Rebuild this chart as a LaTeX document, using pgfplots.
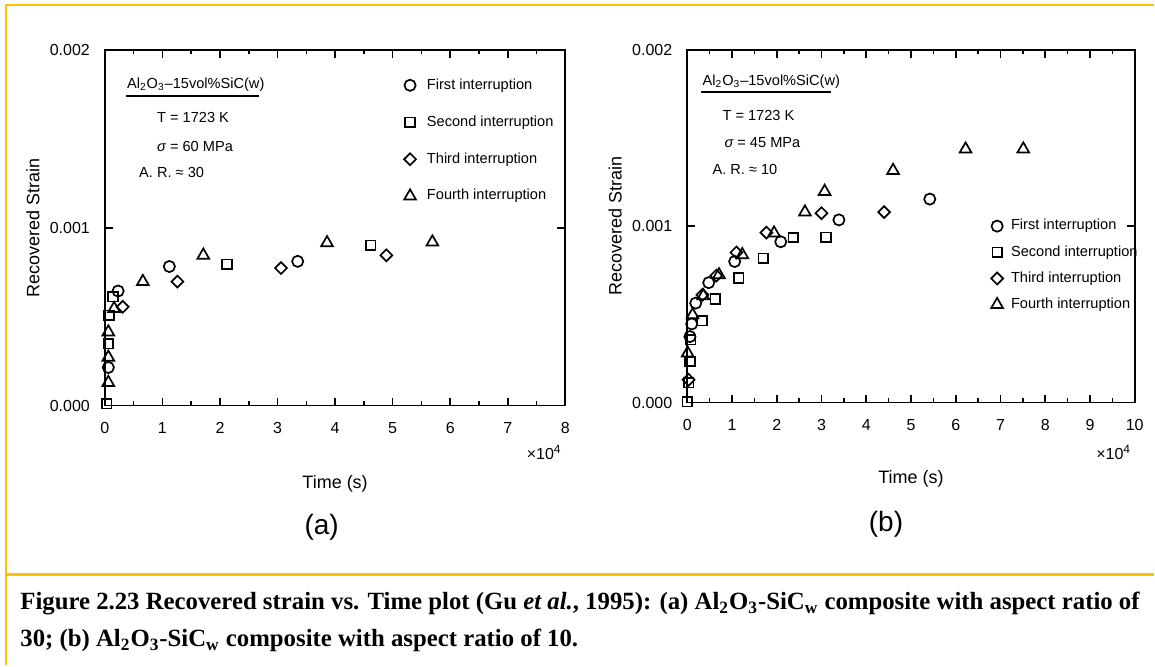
\documentclass[border=0pt]{standalone}
\usepackage{pgfplots}
\pgfplotsset{compat=1.18}
\usepackage{fontspec}
\setmainfont{Liberation Sans}
\newfontfamily\capfont{Liberation Serif}
\definecolor{gold}{RGB}{255,192,0}

\pgfplotsset{
  mk1/.style={only marks, black, mark=o, mark size=2.8pt, mark options={line width=0.85pt}},
  mk2/.style={only marks, black, mark=square, mark size=2.4pt, mark options={line width=0.85pt}},
  mk3/.style={only marks, black, mark=square, mark size=2.1pt, mark options={line width=0.85pt, rotate=45}},
  mk4/.style={only marks, black, mark=triangle, mark size=3.4pt, mark options={line width=0.85pt}},
  strainaxis/.style={
    scale only axis, anchor=south west,
    xmin=0, ymin=0, ymax=0.002,
    ytick={0,0.001,0.002}, yticklabels={0.000,0.001,0.002},
    scaled y ticks=false, scaled x ticks=false,
    minor x tick num=1,
    tick align=inside,
    major tick length=4pt, minor tick length=2.2pt,
    axis line style={line width=0.95pt},
    every tick/.append style={black, line width=0.8pt},
    ticklabel style={font=\fontsize{8}{8}\selectfont},
    /pgf/number format/assume math mode=true,
    xticklabel style={yshift=-5pt},
    yticklabel style={xshift=-4pt},
    label style={font=\fontsize{9}{9}\selectfont},
    ylabel={Recovered Strain},
    xlabel={Time (s)},
    clip=false,
    legend cell align=left,
    legend image code/.code={\draw[##1] plot coordinates {(0pt,0pt)};},
  },
}

\begin{document}
\begin{tikzpicture}
\fill[white] (0,0) rectangle (577.5pt,333pt);
% frame
\draw[gold, line width=1.3pt] (3pt,0) -- (3pt,330.5pt) -- (577.5pt,330.5pt);
\draw[gold, line width=1.3pt] (3pt,45.5pt) -- (577.5pt,45.5pt);

% ---------------- panel (a)
\begin{axis}[strainaxis, at={(52.5pt,130pt)}, width=230.5pt, height=178pt,
  xmax=8, xtick={0,...,8},
  ylabel style={at={(axis description cs:-0.156,0.5)},anchor=center},
  xlabel style={at={(axis description cs:0.5,-0.22)},anchor=center},
  legend style={draw=none, fill=none, at={(0.636,0.932)}, anchor=north west,
    font=\fontsize{7.3}{8}\selectfont, row sep=11.7pt,
    nodes={inner sep=0pt, text height=5.3pt, text depth=1.5pt},
    /tikz/every odd column/.style={column sep=5.5pt}},
]
\addplot[mk1] coordinates {(0.06,0.000214) (0.23,0.000644) (1.12,0.000782) (3.35,0.000811)};
\addlegendentry{First interruption}
\addplot[mk2] coordinates {(0.03,0.00001) (0.06,0.000347) (0.07,0.000507) (0.14,0.000612) (2.12,0.000795) (4.62,0.000902)};
\addlegendentry{Second interruption}
\addplot[mk3] coordinates {(0.31,0.000555) (1.26,0.000697) (3.06,0.000773) (4.89,0.000845)};
\addlegendentry{Third interruption}
\addplot[mk4] coordinates {(0.06,0.000129) (0.06,0.000271) (0.06,0.000413) (0.16,0.000545) (0.66,0.000697) (1.71,0.000845) (3.86,0.000915) (5.69,0.000919)};
\addlegendentry{Fourth interruption}
\node[font=\fontsize{8}{8}\selectfont] at (rel axis cs:0.954,-0.132) {×10\textsuperscript{4}};
\end{axis}

% ---------------- panel (b)
\begin{axis}[strainaxis, at={(344pt,131.5pt)}, width=224pt, height=176.5pt,
  xmax=10, xtick={0,...,10},
  ylabel style={at={(axis description cs:-0.161,0.5)},anchor=center},
  xlabel style={at={(axis description cs:0.5,-0.215)},anchor=center},
  legend style={draw=none, fill=none, at={(0.665,0.532)}, anchor=north west,
    font=\fontsize{7.3}{8}\selectfont, row sep=6.3pt,
    nodes={inner sep=0pt, text height=5.3pt, text depth=1.5pt},
    /tikz/every odd column/.style={column sep=4pt}},
]
\addplot[mk1] coordinates {(0.06,0.000374) (0.10,0.000446) (0.19,0.000564) (0.48,0.00068) (1.06,0.0008) (2.09,0.000912) (3.39,0.001036) (5.42,0.001154)};
\addlegendentry{First interruption}
\addplot[mk2] coordinates {(0.0,0.000005) (0.03,0.000112) (0.06,0.000233) (0.08,0.000356) (0.33,0.000465) (0.63,0.000587) (1.15,0.000706) (1.70,0.000819) (2.37,0.000936) (3.10,0.000938)};
\addlegendentry{Second interruption}
\addplot[mk3] coordinates {(0.03,0.000129) (0.34,0.000611) (0.65,0.00072) (1.10,0.000851) (1.77,0.000964) (3.00,0.001074) (4.40,0.00108)};
\addlegendentry{Third interruption}
\addplot[mk4] coordinates {(0.01,0.00028) (0.12,0.000497) (0.36,0.000605) (0.71,0.000724) (1.23,0.000838) (1.94,0.000961) (2.63,0.00108) (3.07,0.001197) (4.60,0.001316) (6.22,0.001437) (7.51,0.001437)};
\addlegendentry{Fourth interruption}
\node[font=\fontsize{8}{8}\selectfont] at (rel axis cs:0.953,-0.142) {×10\textsuperscript{4}};
\end{axis}

% annotations (a)
\begin{scope}[every node/.style={font=\fontsize{7.3}{8}\selectfont, inner sep=0pt, anchor=west}]
\node at (63.4pt,290.5pt) {Al\textsubscript{2}O\textsubscript{3}–15vol\%SiC(w)};
\draw[line width=0.9pt] (63pt,285pt) -- (129.5pt,285pt);
\node at (78.5pt,274pt) {T = 1723 K};
\node at (78.5pt,259.75pt) {{\itshape σ} = 60 MPa};
\node at (69.5pt,246.5pt) {A. R. ≈ 30};
% annotations (b)
\node at (351.5pt,292pt) {Al\textsubscript{2}O\textsubscript{3}–15vol\%SiC(w)};
\draw[line width=0.9pt] (351pt,287pt) -- (416pt,287pt);
\node at (361.5pt,275pt) {T = 1723 K};
\node at (362.5pt,261.5pt) {{\itshape σ} = 45 MPa};
\node at (356.5pt,248pt) {A. R. ≈ 10};
\end{scope}

% panel letters
\node[font=\fontsize{14}{14}\selectfont] at (161pt,69pt) {(a)};
\node[font=\fontsize{14}{14}\selectfont] at (443.5pt,70.5pt) {(b)};

% caption
\begin{scope}[every node/.style={font=\capfont\bfseries\fontsize{12.4}{13}\selectfont, inner sep=0pt, anchor=base west}]
\node at (10pt,27.75pt) {Figure 2.23 Recovered strain vs. Time plot (Gu \textit{et al.}, 1995): (a) Al\textsubscript{2}O\textsubscript{3}-SiC\textsubscript{w} composite with aspect ratio of};
\node at (10pt,9.25pt) {30; (b) Al\textsubscript{2}O\textsubscript{3}-SiC\textsubscript{w} composite with aspect ratio of 10.};
\end{scope}
\end{tikzpicture}
\end{document}
